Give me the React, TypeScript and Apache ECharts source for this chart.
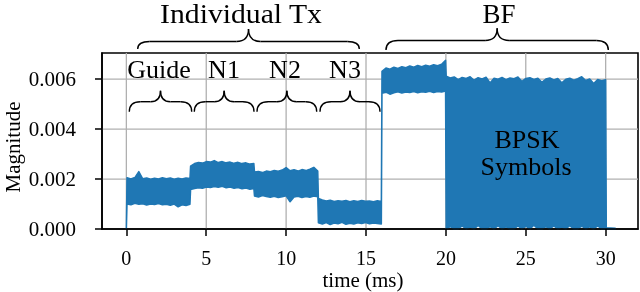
import React, { useEffect, useRef } from "react";
import * as echarts from "echarts";

// ---- axis ticks ----
const xTicks = [0, 5, 10, 15, 20, 25, 30];
const yTicks = [0, 0.002, 0.004, 0.006];
const xRange = [-1.525, 32.025];
const yRange = [0, 0.00705];

// ---- signal envelope, segment by segment (ms) ----
const segmentNames = ["Guide", "N1", "N2", "N3", "BF", "BPSK"];
const segmentStart = [0.04, 4.02, 8.02, 12.02, 16.0, 20.02];
const segmentEnd = [3.98, 7.98, 11.98, 15.96, 19.98, 30.0];

const guideTop = [0.00205, 0.002, 0.00206, 0.0023, 0.00201, 0.00204, 0.00199, 0.00203, 0.002, 0.00205, 0.00201, 0.00204, 0.00199, 0.00203, 0.002, 0.00204, 0.00202];
const guideBottom = [0.001, 0.00097, 0.00103, 0.00099, 0.00101, 0.00096, 0.001, 0.00098, 0.00102, 0.00097, 0.00099, 0.00095, 0.001, 0.00089, 0.00097, 0.00094, 0.00099];
const n1Top = [0.00252, 0.00262, 0.00266, 0.00264, 0.0027, 0.00268, 0.00274, 0.00266, 0.0027, 0.00265, 0.00268, 0.00263, 0.00267, 0.00262, 0.00265, 0.0026, 0.00262];
const n1Bottom = [0.00158, 0.00162, 0.00165, 0.00163, 0.00168, 0.00166, 0.0017, 0.00167, 0.00171, 0.00165, 0.00168, 0.00163, 0.00166, 0.00161, 0.00164, 0.00159, 0.00162];
const n2Top = [0.00228, 0.0023, 0.00226, 0.00232, 0.00229, 0.00234, 0.00231, 0.00236, 0.00246, 0.00233, 0.00237, 0.00232, 0.00238, 0.00234, 0.0024, 0.00247, 0.00232];
const n2Bottom = [0.00132, 0.00128, 0.00134, 0.0013, 0.00127, 0.00131, 0.00126, 0.00129, 0.00133, 0.00109, 0.00128, 0.00131, 0.00126, 0.0013, 0.00127, 0.00132, 0.00129];
const n3Top = [0.00122, 0.00116, 0.00112, 0.00115, 0.0011, 0.00113, 0.00111, 0.00114, 0.00109, 0.00113, 0.0011, 0.00114, 0.00111, 0.00112, 0.00109, 0.00113, 0.0011];
const n3Bottom = [0.00025, 0.0002, 0.00026, 0.00018, 0.00024, 0.00021, 0.00027, 0.00019, 0.00023, 0.0002, 0.00025, 0.00022, 0.00026, 0.00021, 0.00024, 0.00022, 0.0002];
const bfTop = [0.00632, 0.00645, 0.0064, 0.00648, 0.00643, 0.0065, 0.00646, 0.00653, 0.00648, 0.00655, 0.0065, 0.00656, 0.00652, 0.00658, 0.00654, 0.0066, 0.00676];
const bfBottom = [0.00544, 0.00548, 0.0054, 0.00546, 0.0055, 0.00545, 0.00549, 0.00547, 0.00551, 0.00546, 0.0055, 0.00548, 0.00552, 0.00547, 0.00551, 0.00549, 0.00553];
const bpskTop = [0.00612, 0.00605, 0.00609, 0.00598, 0.00607, 0.00603, 0.0061, 0.00596, 0.00606, 0.00601, 0.00608, 0.00585, 0.00604, 0.006, 0.00607, 0.00598, 0.00605, 0.00602, 0.00609, 0.00591, 0.00603, 0.00606, 0.00599, 0.00604, 0.00588, 0.00601, 0.00605, 0.00597, 0.00603, 0.00586, 0.006, 0.00604, 0.00596, 0.00602, 0.0061, 0.00595, 0.00601, 0.00583, 0.00599, 0.00594, 0.00598];
const bpskBottom = [0, 0.0001, 0, 0, 0.00012, 0, 0.00008, 0, 0.00014, 0, 0, 0.0001, 0, 0.00013, 0, 0.00009, 0, 0, 0.00012, 0, 0.00011, 0, 0.00015, 0, 0, 0.0001, 0, 0.00012, 0, 0.00008, 0, 0.00013, 0, 0, 0.00011, 0, 0.00009, 0, 0.00012, 0, 0];

const tailX = [30.04, 30.6];
const tailTop = [0.00005, 0.00003];
const tailBottom = [0, 0];

const segmentTops = [guideTop, n1Top, n2Top, n3Top, bfTop, bpskTop];
const segmentBottoms = [guideBottom, n1Bottom, n2Bottom, n3Bottom, bfBottom, bpskBottom];

function buildEnvelope(): number[][] {
  const upper: number[][] = [[0, 0]];
  const lower: number[][] = [[0, 0]];
  segmentNames.forEach((_, i) => {
    const tops = segmentTops[i];
    const bots = segmentBottoms[i];
    const n = tops.length;
    for (let j = 0; j < n; j++) {
      const x = segmentStart[i] + ((segmentEnd[i] - segmentStart[i]) * j) / (n - 1);
      upper.push([x, tops[j]]);
      lower.push([x, bots[j]]);
    }
  });
  tailX.forEach((x, k) => {
    upper.push([x, tailTop[k]]);
    lower.push([x, tailBottom[k]]);
  });
  return upper.concat(lower.reverse());
}

const BLUE = "#1f77b4";
const GRID = "#b0b0b0";
const FONT = '"Liberation Serif", "Times New Roman", serif';

function brace(xL: number, xR: number, yTip: number, yFlat: number, yCusp: number, hook: number, cuspHook: number) {
  const xm = (xL + xR) / 2;
  const st = { stroke: "#000", lineWidth: 1.4, fill: "none" };
  return {
    type: "group",
    z: 100,
    children: [
      { type: "bezierCurve", z: 100, shape: { x1: xL, y1: yTip, x2: xL + hook, y2: yFlat, cpx1: xL, cpy1: yFlat }, style: st },
      { type: "line", z: 100, shape: { x1: xL + hook, y1: yFlat, x2: xm - cuspHook, y2: yFlat }, style: st },
      { type: "bezierCurve", z: 100, shape: { x1: xm - cuspHook, y1: yFlat, x2: xm, y2: yCusp, cpx1: xm, cpy1: yFlat }, style: st },
      { type: "bezierCurve", z: 100, shape: { x1: xm, y1: yCusp, x2: xm + cuspHook, y2: yFlat, cpx1: xm, cpy1: yFlat }, style: st },
      { type: "line", z: 100, shape: { x1: xm + cuspHook, y1: yFlat, x2: xR - hook, y2: yFlat }, style: st },
      { type: "bezierCurve", z: 100, shape: { x1: xR - hook, y1: yFlat, x2: xR, y2: yTip, cpx1: xR, cpy1: yFlat }, style: st },
    ],
  };
}

function label(text: string, x: number, y: number, size: number, scaleX = 1) {
  return {
    type: "text",
    z: 100,
    x,
    y,
    scaleX,
    style: {
      text,
      fill: "#000",
      fontSize: size,
      fontFamily: FONT,
      lineHeight: size,
      textAlign: "center",
      textVerticalAlign: "middle",
      align: "center",
      verticalAlign: "middle",
    },
  };
}

export default function App() {
  const ref = useRef<HTMLDivElement>(null);
  useEffect(() => {
    if (!ref.current) return;
    const chart = echarts.init(ref.current, null, { renderer: "svg" });
    const envelope = buildEnvelope();
    chart.setOption({
      animation: false,
      grid: {
        left: 102,
        right: 2,
        top: 53,
        bottom: 63,
        show: true,
        borderColor: "#000",
        borderWidth: 1.6,
        backgroundColor: "transparent",
        containLabel: false,
        outerBoundsMode: "none",
      },
      xAxis: {
        type: "value",
        min: xRange[0],
        max: xRange[1],
        name: "time (ms)",
        nameLocation: "middle",
        nameMoveOverlap: false,
        nameGap: 42,
        nameTextStyle: { color: "#000", fontSize: 21, lineHeight: 18, fontFamily: FONT, padding: [0, 14, 0, 0] },
        axisLine: { show: true, onZero: false, lineStyle: { color: "#000", width: 1.6 } },
        axisTick: { show: true, length: 7, lineStyle: { color: "#000", width: 1.5 }, customValues: xTicks },
        axisLabel: { customValues: xTicks, margin: 19, color: "#000", fontSize: 20, fontFamily: FONT, formatter: (v: number) => String(v) },
        splitLine: { show: false },
        z: 20,
      },
      yAxis: {
        type: "value",
        min: yRange[0],
        max: yRange[1],
        name: "Magnitude",
        nameLocation: "middle",
        nameMoveOverlap: false,
        nameGap: 80,
        nameTextStyle: { color: "#000", fontSize: 21, lineHeight: 18, fontFamily: FONT, padding: [0, 12, 0, 0] },
        axisLine: { show: true, onZero: false, lineStyle: { color: "#000", width: 1.6 } },
        axisTick: { show: true, length: 7, lineStyle: { color: "#000", width: 1.5 }, customValues: yTicks },
        axisLabel: { customValues: yTicks, margin: 26, color: "#000", fontSize: 21, fontFamily: FONT, formatter: (v: number) => v.toFixed(3) },
        splitLine: { show: false },
        z: 20,
      },
      series: [
        {
          type: "custom",
          name: "Magnitude",
          z: 10,
          silent: true,
          data: [[0, 0]],
          renderItem: (_params: any, api: any) => {
            const gridLines: any[] = [];
            xTicks.forEach((v) => {
              const a = api.coord([v, yRange[0]]);
              const b = api.coord([v, yRange[1]]);
              gridLines.push({ type: "line", shape: { x1: a[0], y1: a[1], x2: b[0], y2: b[1] }, style: { stroke: GRID, lineWidth: 1.3 } });
            });
            yTicks.filter((v) => v > 0).forEach((v) => {
              const a = api.coord([xRange[0], v]);
              const b = api.coord([xRange[1], v]);
              gridLines.push({ type: "line", shape: { x1: a[0], y1: a[1], x2: b[0], y2: b[1] }, style: { stroke: GRID, lineWidth: 1.3 } });
            });
            return {
              type: "group",
              children: [
                ...gridLines,
                {
                  type: "polygon",
                  shape: { points: envelope.map((p) => api.coord(p)) },
                  style: { fill: BLUE, stroke: BLUE, lineWidth: 1.5, lineJoin: "round" },
                },
              ],
            };
          },
        },
      ],
      graphic: [
        brace(137.7, 359.3, 49, 41.5, 29, 12, 12),
        brace(386, 608.3, 50, 40.5, 28.3, 12, 12),
        brace(129.3, 191.7, 111.7, 101.7, 90.7, 11, 10),
        brace(194.3, 254, 111.7, 101.7, 90.7, 11, 10),
        brace(257, 316.7, 111.7, 101.7, 90.7, 11, 10),
        brace(320, 380, 111.7, 101.7, 90.7, 11, 10),
        label("Individual Tx", 241, 14, 27, 1.1),
        label("BF", 499, 14, 27),
        label("Guide", 159, 69, 26),
        label("N1", 224, 69, 26),
        label("N2", 285, 69, 26),
        label("N3", 345, 69, 26),
        label("BPSK", 527, 139, 26),
        label("Symbols", 526, 166, 26),
      ],
    });
    return () => chart.dispose();
  }, []);
  return <div ref={ref} style={{ position: "fixed", left: 0, top: 0, width: 640, height: 292 }} />;
}
